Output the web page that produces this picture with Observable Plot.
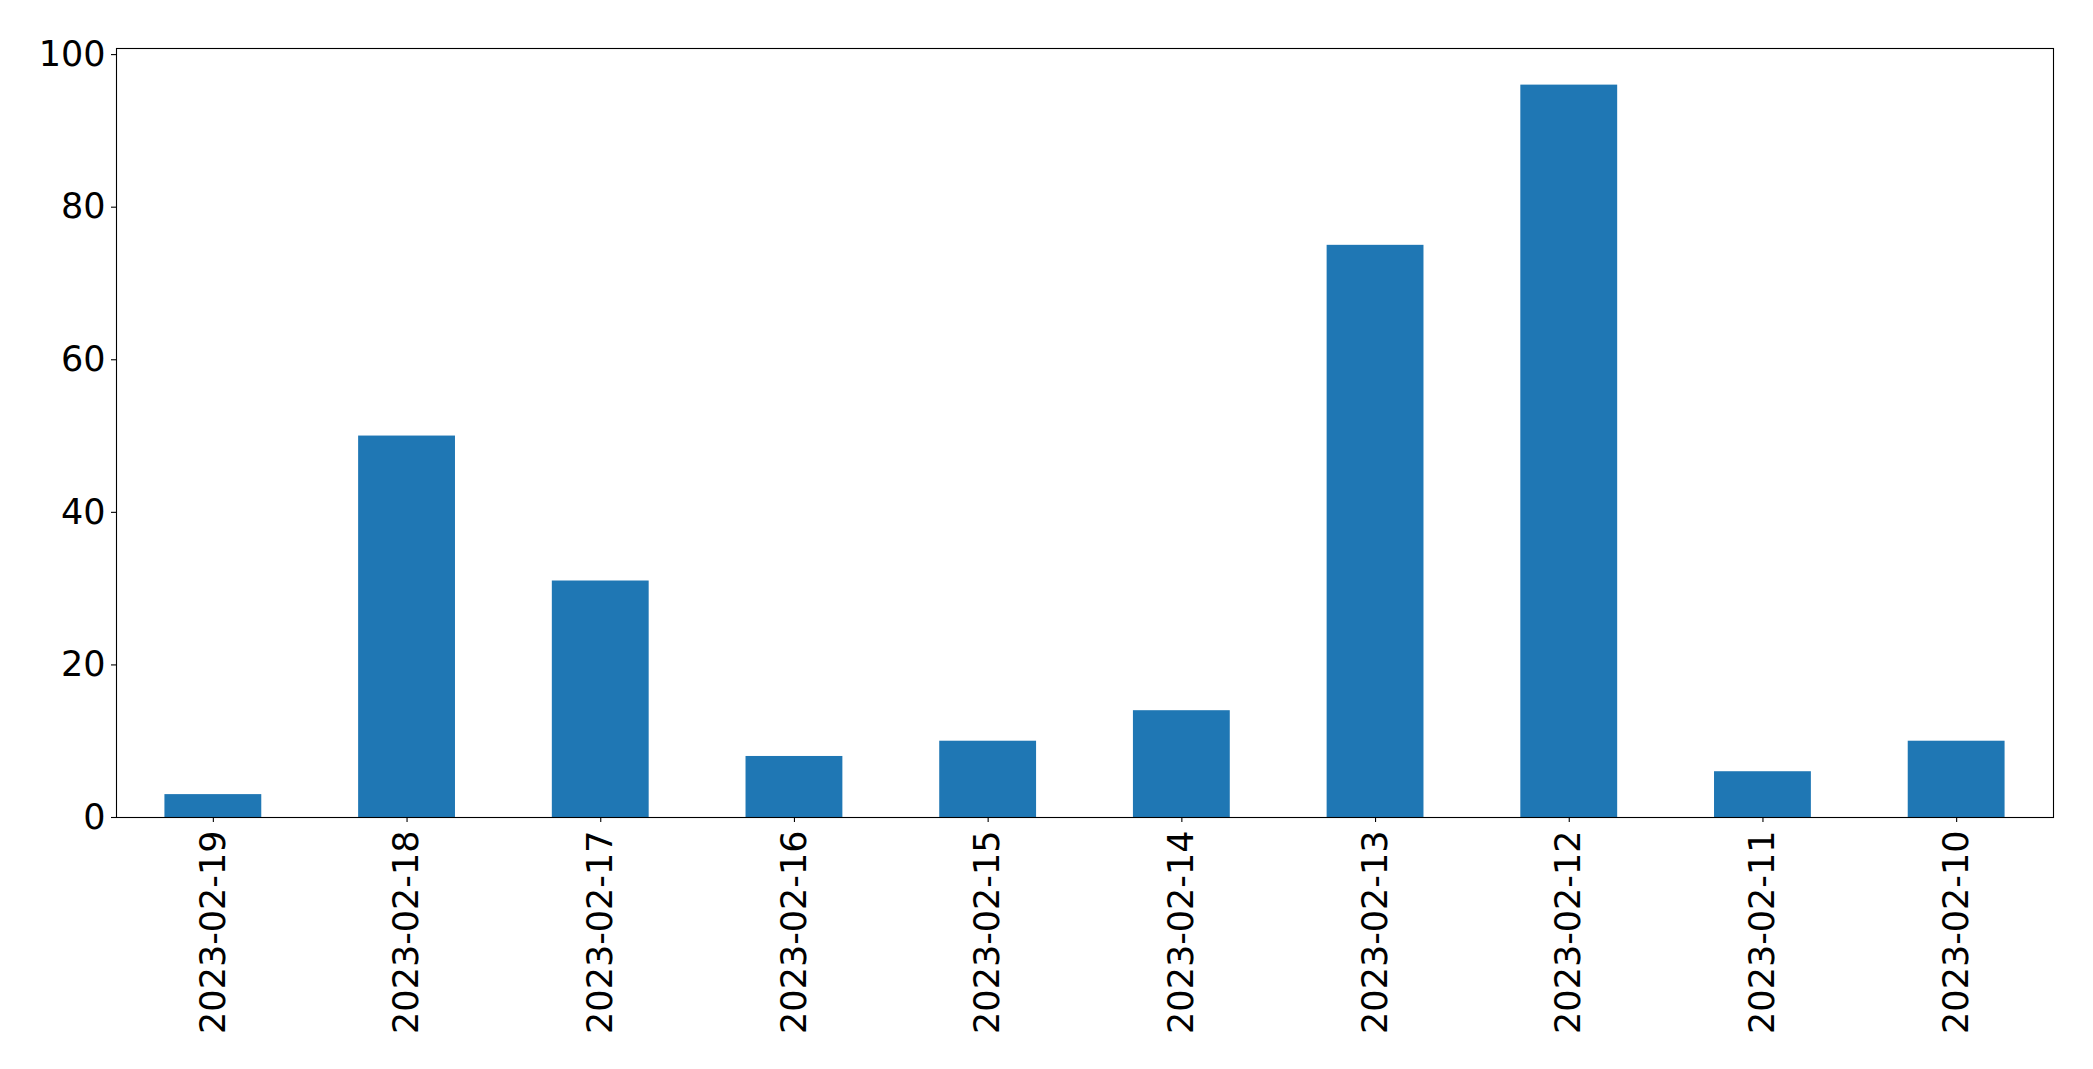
<!DOCTYPE html>
<html>
<head>
<meta charset="utf-8">
<script src="https://cdn.jsdelivr.net/npm/d3@7"></script>
<script src="https://cdn.jsdelivr.net/npm/@observablehq/plot@0.6"></script>
<style>
  html, body { margin: 0; padding: 0; background: #fff; }
  #chart svg { display: block; }
</style>
</head>
<body>
<div id="chart"></div>
<script>
const dates = ["2023-02-19","2023-02-18","2023-02-17","2023-02-16","2023-02-15","2023-02-14","2023-02-13","2023-02-12","2023-02-11","2023-02-10"];
const counts = [3, 50, 31, 8, 10, 14, 75, 96, 6, 10];
const yTicks = [0, 20, 40, 60, 80, 100];

const data = dates.map((d, i) => ({date: d, count: counts[i]}));

const chart = Plot.plot({
  width: 2093,
  height: 1069,
  marginLeft: 116,
  marginRight: 40,
  marginTop: 48,
  marginBottom: 252,
  style: {fontFamily: "DejaVu Sans", fontSize: "35px", color: "#000", background: "#fff"},
  x: {domain: dates, paddingInner: 0.5, paddingOuter: 0.25, round: false, label: null},
  y: {domain: [0, 100.8], label: null},
  marks: [
    Plot.barY(data, {x: "date", y: "count", fill: "#1f77b4"}),
    Plot.frame({stroke: "#000", strokeWidth: 1.1}),
    Plot.axisY({ticks: yTicks, tickSize: 5, tickPadding: 6, fontSize: 35, label: null, stroke: "#000", strokeWidth: 1.1}),
    Plot.axisX({tickSize: 5, tickPadding: 8, tickRotate: -90, fontSize: 35, label: null, stroke: "#000", strokeWidth: 1.1})
  ]
});
document.getElementById("chart").appendChild(chart);
</script>
</body>
</html>
